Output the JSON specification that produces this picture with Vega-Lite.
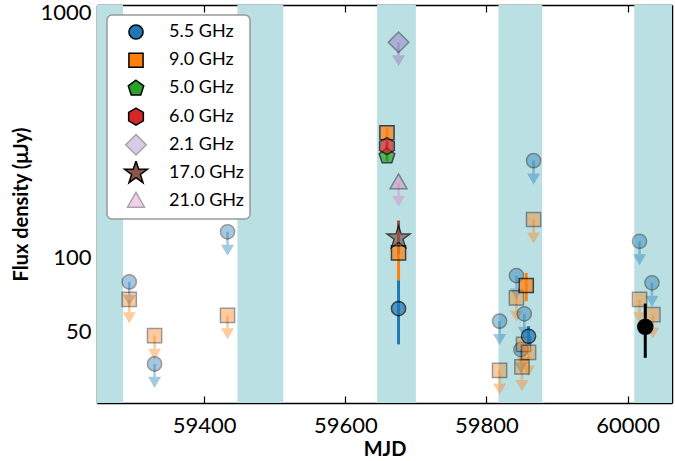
{
  "$schema": "https://vega.github.io/schema/vega-lite/v6.json",
  "width": 575,
  "height": 398,
  "autosize": {"type": "none"},
  "padding": {"left": 97, "top": 5, "right": 3, "bottom": 58},
  "config": {
    "font": "Lato",
    "view": {"stroke": null},
    "axis": {"grid": false, "zindex": 1, "domainColor": "black", "tickColor": "black", "labelColor": "black", "titleColor": "black", "domainWidth": 1.5, "tickWidth": 1.2, "labelOverlap": false, "labelFlush": false},
    "legend": {"orient": "top-left", "offset": 10, "padding": 5, "strokeColor": "#999999", "strokeWidth": 1.5, "cornerRadius": 5, "fillColor": "white", "labelFontSize": 18, "labelFont": "Lato", "labelColor": "black", "symbolSize": 200, "rowPadding": 4.2, "clipHeight": 24, "symbolOffset": 15, "labelOffset": 24}
  },
  "datasets": {
    "bands": [
      {"start": 59200, "end": 59285},
      {"start": 59447, "end": 59512},
      {"start": 59645, "end": 59700},
      {"start": 59817, "end": 59879},
      {"start": 60009.5, "end": 60100}
    ],
    "det": [
      {"band": "5.5 GHz", "mjd": 59675.4, "flux": 60.1, "lo": 42.9, "hi": 78.5},
      {"band": "9.0 GHz", "mjd": 59659.0, "flux": 314.6, "lo": 300, "hi": 330},
      {"band": "9.0 GHz", "mjd": 59675.4, "flux": 101.6, "lo": 78.5, "hi": 125},
      {"band": "9.0 GHz", "mjd": 59856.4, "flux": 74.7, "lo": 64.4, "hi": 84.1},
      {"band": "5.0 GHz", "mjd": 59659.0, "flux": 252.4, "lo": 240, "hi": 265},
      {"band": "6.0 GHz", "mjd": 59659.0, "flux": 277.3, "lo": 265, "hi": 290},
      {"band": "17.0 GHz", "mjd": 59675.4, "flux": 117.0, "lo": 100, "hi": 137.7},
      {"band": "5.5 GHz", "mjd": 59859.7, "flux": 46.3, "lo": 42.4, "hi": 50.9}
    ],
    "lim": [
      {"band": "5.5 GHz", "mjd": 59293.7, "flux": 77.3, "lo": 68.4},
      {"band": "5.5 GHz", "mjd": 59329.6, "flux": 35.7, "lo": 31.6},
      {"band": "5.5 GHz", "mjd": 59433.0, "flux": 123.8, "lo": 109.6},
      {"band": "5.5 GHz", "mjd": 59818.6, "flux": 53.4, "lo": 47.3},
      {"band": "5.5 GHz", "mjd": 59842.5, "flux": 82.0, "lo": 72.6},
      {"band": "5.5 GHz", "mjd": 59848.9, "flux": 40.9, "lo": 36.2},
      {"band": "5.5 GHz", "mjd": 59853.6, "flux": 57.2, "lo": 50.6},
      {"band": "5.5 GHz", "mjd": 59866.8, "flux": 242.0, "lo": 214.2},
      {"band": "5.5 GHz", "mjd": 60017.0, "flux": 113.3, "lo": 100.3},
      {"band": "5.5 GHz", "mjd": 60034.6, "flux": 76.6, "lo": 67.8},
      {"band": "9.0 GHz", "mjd": 59293.7, "flux": 65.5, "lo": 58.0},
      {"band": "9.0 GHz", "mjd": 59329.6, "flux": 46.6, "lo": 41.2},
      {"band": "9.0 GHz", "mjd": 59433.0, "flux": 56.4, "lo": 49.9},
      {"band": "9.0 GHz", "mjd": 59818.6, "flux": 33.6, "lo": 29.7},
      {"band": "9.0 GHz", "mjd": 59842.5, "flux": 66.5, "lo": 58.9},
      {"band": "9.0 GHz", "mjd": 59850.3, "flux": 34.7, "lo": 30.7},
      {"band": "9.0 GHz", "mjd": 59852.6, "flux": 42.9, "lo": 38.0},
      {"band": "9.0 GHz", "mjd": 59859.7, "flux": 39.8, "lo": 35.2},
      {"band": "9.0 GHz", "mjd": 59866.8, "flux": 139.0, "lo": 123.0},
      {"band": "9.0 GHz", "mjd": 60017.0, "flux": 65.5, "lo": 58.0},
      {"band": "9.0 GHz", "mjd": 60036.0, "flux": 56.8, "lo": 50.3},
      {"band": "2.1 GHz", "mjd": 59675.4, "flux": 738.0, "lo": 653.0},
      {"band": "21.0 GHz", "mjd": 59675.4, "flux": 196.5, "lo": 173.9}
    ],
    "other": [
      {"mjd": 60025.1, "flux": 50.6, "lo": 37.8, "hi": 63.0}
    ]
  },
  "layer": [
    {
      "data": {"name": "bands"},
      "mark": {"type": "rect", "color": "#bbe0e3", "clip": true},
      "encoding": {
        "x": {"field": "start", "type": "quantitative", "scale": {"domain": [59248, 60063], "nice": false, "zero": false},
          "axis": {"orient": "bottom", "values": [59400, 59600, 59800, 60000], "format": "d", "tickSize": -7, "labelPadding": 19, "labelFontSize": 22, "title": "MJD", "titleFontSize": 20, "titleFontWeight": "bold", "titlePadding": 3}},
        "x2": {"field": "end"}
      }
    },
    {
      "data": {"name": "det"},
      "transform": [{"filter": "datum.flux < 0"}],
      "mark": {"type": "point", "filled": true, "size": 200, "stroke": "black", "strokeWidth": 1.5},
      "encoding": {
        "x": {"field": "mjd", "type": "quantitative", "axis": null},
        "y": {"field": "flux", "type": "quantitative", "axis": null},
        "color": {"field": "band", "type": "nominal",
          "scale": {"domain": ["5.5 GHz", "9.0 GHz", "5.0 GHz", "6.0 GHz", "2.1 GHz", "17.0 GHz", "21.0 GHz"],
                    "range": ["#1f77b4", "#ff7f0e", "#2ca02c", "#d62728", "#9467bd", "#8c564b", "#e377c2"]},
          "legend": {"title": null,
            "encoding": {"symbols": {"opacity": {"value": {"expr": "(datum.value == '2.1 GHz' || datum.value == '21.0 GHz') ? 0.35 : 1"}}, "stroke": {"value": "black"}, "strokeWidth": {"value": 1.5}}}}},
        "shape": {"field": "band", "type": "nominal",
          "scale": {"domain": ["5.5 GHz", "9.0 GHz", "5.0 GHz", "6.0 GHz", "2.1 GHz", "17.0 GHz", "21.0 GHz"],
                    "range": ["circle", "square",
                      "M0,-1.15L1.094,-0.355L0.676,0.93L-0.676,0.93L-1.094,-0.355Z",
                      "M0,-1.2L1.039,-0.6L1.039,0.6L0,1.2L-1.039,0.6L-1.039,-0.6Z",
                      "M0,-1.45L1.45,0L0,1.45L-1.45,0Z",
                      "M0,-1.7L0.382,-0.526L1.617,-0.525L0.618,0.201L0.999,1.375L0,0.65L-0.999,1.375L-0.618,0.201L-1.617,-0.525L-0.382,-0.526Z",
                      "M0,-1.25L1.2,0.85L-1.2,0.85Z"]},
          "legend": {"title": null,
            "encoding": {"symbols": {"opacity": {"value": {"expr": "(datum.value == '2.1 GHz' || datum.value == '21.0 GHz') ? 0.35 : 1"}}, "stroke": {"value": "black"}, "strokeWidth": {"value": 1.5}}}}}
      }
    },
    {
      "data": {"name": "lim"},
      "mark": {"type": "rule", "strokeWidth": 2.5, "opacity": 0.4},
      "encoding": {
        "x": {"field": "mjd", "type": "quantitative", "axis": {"orient": "top", "values": [59400, 59600, 59800, 60000], "tickSize": -7, "labels": false, "title": null}},
        "y": {"field": "flux", "type": "quantitative", "scale": {"type": "log", "domain": [24.7, 1048], "nice": false},
          "axis": {"orient": "left", "values": [30, 40, 50, 60, 70, 80, 90, 100, 200, 300, 400, 500, 600, 700, 800, 900, 1000], "tickSize": -4, "labelPadding": 10, "labelOffset": 3, "labelFontSize": 22, "labelExpr": "(datum.value == 50 || datum.value == 100 || datum.value == 1000) ? format(datum.value, 'd') : ''", "title": "Flux density (μJy)", "titleFontSize": 20, "titleFontWeight": "bold", "titlePadding": 8}},
        "y2": {"field": "lo"},
        "stroke": {"field": "band", "type": "nominal",
          "scale": {"domain": ["2.1 GHz", "21.0 GHz", "5.5 GHz", "9.0 GHz", "17.0 GHz", "5.0 GHz", "6.0 GHz"],
                    "range": ["#9467bd", "#e377c2", "#1f77b4", "#ff7f0e", "#8c564b", "#2ca02c", "#d62728"]},
          "legend": null}
      }
    },
    {
      "data": {"name": "lim"},
      "mark": {"type": "point", "shape": "M-1,0L1,0L0,1.7Z", "filled": true, "size": 169, "opacity": 0.4, "strokeWidth": 0},
      "encoding": {
        "x": {"field": "mjd", "type": "quantitative", "axis": null},
        "y": {"field": "lo", "type": "quantitative", "axis": {"orient": "left", "values": [100, 1000], "tickSize": -7, "labels": false, "domain": false, "title": null}},
        "color": {"field": "band", "type": "nominal", "legend": null}
      }
    },
    {
      "data": {"name": "lim"},
      "mark": {"type": "point", "filled": true, "size": 200, "stroke": "black", "strokeWidth": 1.5, "opacity": 0.4},
      "encoding": {
        "x": {"field": "mjd", "type": "quantitative", "axis": null},
        "y": {"field": "flux", "type": "quantitative", "axis": {"orient": "right", "values": [30, 40, 50, 60, 70, 80, 90, 200, 300, 400, 500, 600, 700, 800, 900], "tickSize": -4, "labels": false, "title": null}},
        "color": {"field": "band", "type": "nominal", "legend": null},
        "shape": {"field": "band", "type": "nominal", "legend": null}
      }
    },
    {
      "data": {"name": "det"},
      "mark": {"type": "rule", "strokeWidth": 3},
      "encoding": {
        "x": {"field": "mjd", "type": "quantitative", "axis": null},
        "y": {"field": "lo", "type": "quantitative", "axis": {"orient": "right", "values": [100, 1000], "tickSize": -7, "labels": false, "domain": false, "title": null}},
        "y2": {"field": "hi"},
        "stroke": {"field": "band", "type": "nominal", "legend": null}
      }
    },
    {
      "data": {"name": "det"},
      "mark": {"type": "point", "filled": true, "size": 200, "stroke": "black", "strokeWidth": 1.5},
      "encoding": {
        "x": {"field": "mjd", "type": "quantitative", "axis": null},
        "y": {"field": "flux", "type": "quantitative", "axis": null},
        "color": {"field": "band", "type": "nominal", "legend": null},
        "shape": {"field": "band", "type": "nominal", "legend": null}
      }
    },
    {
      "data": {"name": "other"},
      "mark": {"type": "rule", "strokeWidth": 3, "color": "black"},
      "encoding": {
        "x": {"field": "mjd", "type": "quantitative", "axis": null},
        "y": {"field": "lo", "type": "quantitative", "axis": null},
        "y2": {"field": "hi"}
      }
    },
    {
      "data": {"name": "other"},
      "mark": {"type": "point", "filled": true, "size": 270, "color": "black", "opacity": 1},
      "encoding": {
        "x": {"field": "mjd", "type": "quantitative", "axis": null},
        "y": {"field": "flux", "type": "quantitative", "axis": null}
      }
    }
  ],
  "resolve": {"axis": {"x": "independent", "y": "independent"}}
}
